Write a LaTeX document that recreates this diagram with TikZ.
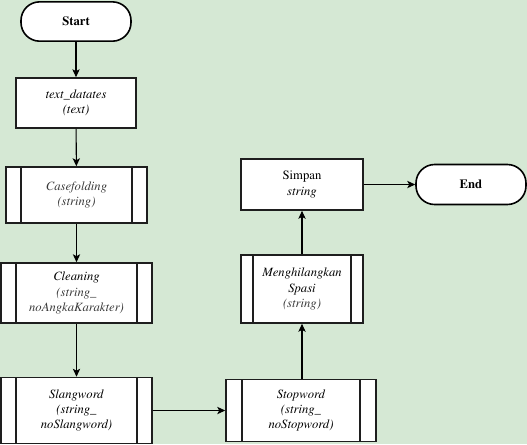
\documentclass[tikz,border=0pt]{standalone}
\usepackage[T1]{fontenc}
\usepackage{mathptmx}
\usetikzlibrary{arrows.meta}
\definecolor{bggreen}{HTML}{D5E8D4}
\definecolor{edge}{HTML}{1E1E1E}
\definecolor{softtext}{HTML}{3A3A3A}
\begin{document}
\begin{tikzpicture}[x=0.75pt,y=-0.75pt,
  every node/.style={font=\fontsize{9.5}{11.5}\selectfont, align=center, inner sep=1pt},
  box/.style={draw=edge, line width=1.2pt, fill=white, rectangle},
  terminal/.style={draw=black, line width=1.2pt, fill=white, rectangle,
    rounded corners=14pt, minimum width=82.5pt, minimum height=29.5pt},
  subproc/.style={box, path picture={
      \draw[edge, line width=1.2pt]
        ([xshift=#1]path picture bounding box.north west) --
        ([xshift=#1]path picture bounding box.south west)
        ([xshift=-#1]path picture bounding box.north east) --
        ([xshift=-#1]path picture bounding box.south east);}},
  flow/.style={draw=black, line width=0.8pt, -{Stealth[length=6pt,width=5.5pt,inset=1.5pt]}}
]
% background
\useasboundingbox[fill=bggreen] (0,0) rectangle (527,444);

% left column
\node[terminal] (start) at (76,21.5) {\textbf{Start}};
\node[box, minimum width=90pt, minimum height=37.5pt] (data) at (76,103)
  {\textit{text\_datates}\\ \textit{(text)}};
\node[subproc=11.25pt, minimum width=105.75pt, minimum height=42pt, text=softtext] (case) at (76.5,195)
  {\textit{Casefolding}\\ \textit{(string)}};
\node[subproc=11.25pt, minimum width=113.25pt, minimum height=45pt] (clean) at (76.5,293)
  {\textit{Cleaning}\\ \textit{\textcolor{softtext}{(string\_}}\\ \textit{\textcolor{softtext}{noAngkaKarakter)}}};
\node[subproc=11.25pt, minimum width=113.25pt, minimum height=49.5pt] (slang) at (76.5,410.5)
  {\textit{Slangword}\\ \textit{(string\_}\\ \textit{noSlangword)}};

% right column
\node[subproc=12pt, minimum width=112.5pt, minimum height=46.5pt] (stop) at (301,410.5)
  {\textit{Stopword}\\ \textit{(string\_}\\ \textit{noStopword)}};
\node[subproc=9pt, minimum width=91.5pt, minimum height=51pt] (spasi) at (302,289)
  {\textit{Menghilangkan}\\ \textit{Spasi}\\ \textit{\textcolor{softtext}{(string)}}};
\node[box, minimum width=91.5pt, minimum height=38.25pt] (simpan) at (302,184.5)
  {Simpan\\ \textit{string}};
\node[terminal, minimum width=82.5pt, minimum height=30pt] (end) at (471,184.5) {\textbf{End}};

% connectors
\draw[flow] (start) -- (data);
\draw[flow] (data) -- (case);
\draw[flow] (case) -- (clean);
\draw[flow] (clean) -- (slang);
\draw[flow] (slang.east) -- (stop.west);
\draw[flow] (stop.north -| spasi.south) -- (spasi.south);
\draw[flow] (spasi) -- (simpan);
\draw[flow] (simpan.east) -- (end.west);
\end{tikzpicture}
\end{document}
